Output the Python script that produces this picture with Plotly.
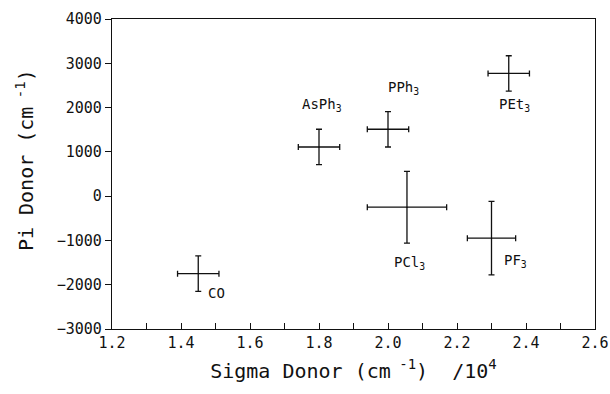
import plotly.graph_objects as go

ligands = ["CO", "AsPh<sub>3</sub>", "PPh<sub>3</sub>", "PCl<sub>3</sub>", "PEt<sub>3</sub>", "PF<sub>3</sub>"]
sigma = [1.45, 1.80, 2.00, 2.055, 2.35, 2.30]
pi = [-1750, 1110, 1510, -250, 2770, -950]
sigma_err = [0.06, 0.06, 0.06, 0.115, 0.06, 0.07]
pi_err = [400, 400, 400, 810, 400, 830]
x_ticks = [1.2, 1.4, 1.6, 1.8, 2.0, 2.2, 2.4, 2.6]
x_ticklabels = ["1.2", "1.4", "1.6", "1.8", "2.0", "2.2", "2.4", "2.6"]
y_ticks = [-3000, -2000, -1000, 0, 1000, 2000, 3000, 4000]

# label offsets in pixels (style)
label_dx = [18, 3, 15, 3, 6, 24]
label_dy = [-19, 42, 41, -56, -32, -23]

FONT = "DejaVu Sans Mono"

fig = go.Figure()
fig.add_trace(go.Scatter(
    x=sigma, y=pi, mode="markers",
    marker=dict(size=1, color="black"),
    error_x=dict(type="data", array=sigma_err, visible=True, color="#111", thickness=1.3, width=3),
    error_y=dict(type="data", array=pi_err, visible=True, color="#111", thickness=1.3, width=3),
    showlegend=False, hoverinfo="skip",
))

for name, xv, yv, dx, dy in zip(ligands, sigma, pi, label_dx, label_dy):
    fig.add_annotation(x=xv, y=yv, text=name, showarrow=False,
                       xshift=dx, yshift=dy,
                       font=dict(family=FONT, size=14, color="#111"))

# y-axis title placed as annotation (sits slightly above plot centre in the reference)
fig.add_annotation(xref="paper", yref="paper", x=-0.18, y=0.545,
                   text="Pi Donor (cm<sup> -1</sup>)", textangle=-90, showarrow=False,
                   xanchor="center", yanchor="middle",
                   font=dict(family=FONT, size=20, color="#111"))

fig.update_layout(
    width=610, height=394,
    margin=dict(l=112, r=15, t=19, b=65),
    paper_bgcolor="white", plot_bgcolor="white",
    font=dict(family=FONT, color="#111"),
    xaxis=dict(
        range=[1.2, 2.6], tickvals=x_ticks, ticktext=x_ticklabels,
        showgrid=False, zeroline=False,
        showline=True, linecolor="#111", linewidth=1.2, mirror=True,
        ticks="inside", ticklen=6, tickcolor="#111", tickwidth=1.2,
        minor=dict(dtick=0.1, tick0=1.2, ticks="inside", ticklen=6, tickcolor="#111", tickwidth=1.2, showgrid=False),
        tickfont=dict(family=FONT, size=15, color="#111"),
        title=dict(text="Sigma Donor (cm<sup> -1</sup>)  /10<sup>4</sup>",
                   font=dict(family=FONT, size=20, color="#111"), standoff=12),
        automargin=False,
    ),
    yaxis=dict(
        range=[-3000, 4000], tickvals=y_ticks,
        showgrid=False, zeroline=False,
        showline=True, linecolor="#111", linewidth=1.2, mirror=True,
        ticks="outside", ticklen=6, tickcolor="#111", tickwidth=1.2,
        tickfont=dict(family=FONT, size=15, color="#111"),
        automargin=False,
    ),
)

fig.write_html("out.html", config={"displayModeBar": False},
               post_script="document.body.style.margin='0';document.body.style.overflow='hidden';")
